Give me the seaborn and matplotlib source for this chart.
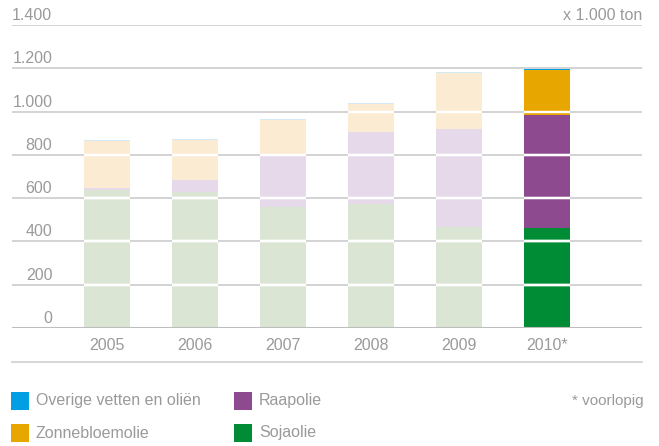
import pandas as pd
import matplotlib.pyplot as plt
import seaborn as sns
from matplotlib.patches import Rectangle

# -----------------------------
# Data (x 1.000 ton)
# -----------------------------
years = ["2005", "2006", "2007", "2008", "2009", "2010*"]
sojaolie = [638, 629, 559, 574, 466, 464]
raapolie = [11, 56, 234, 332, 454, 518]
zonnebloemolie = [214, 185, 169, 130, 259, 211]
overige = [5, 4, 4, 3, 4, 4]

y_ticks = [0, 200, 400, 600, 800, 1000, 1200, 1400]
y_labels = ["0", "200", "400", "600", "800", "1.000", "1.200", "1.400"]

legend_labels = ["Overige vetten en oliën", "Zonnebloemolie", "Raapolie", "Sojaolie"]

# full colour for the last year, faded for the earlier years
full = {"overige": "#009FE3", "zonne": "#E8A700", "raap": "#8D4A8F", "soja": "#008C34"}
pale = {"overige": "#D4EBF7", "zonne": "#FCEBD3", "raap": "#E6DAEA", "soja": "#DAE5D4"}

df = pd.DataFrame({"jaar": years, "soja": sojaolie, "raap": raapolie,
                   "zonne": zonnebloemolie, "overige": overige})
df["c_soja"] = df["soja"]
df["c_raap"] = df["c_soja"] + df["raap"]
df["c_zonne"] = df["c_raap"] + df["zonne"]
df["c_overige"] = df["c_zonne"] + df["overige"]

text_grey = "#9A9A9A"
grid_grey = "#C8C8C8"
plt.rcParams["font.family"] = ["Liberation Sans", "DejaVu Sans"]

# -----------------------------
# Figure
# -----------------------------
fig = plt.figure(figsize=(6.59, 4.46), dpi=100)
ax = fig.add_axes([12 / 659, (446 - 328) / 446, 630 / 659, 303 / 446])

# stacked bars: draw the cumulative totals from the top layer down
for key in ["overige", "zonne", "raap", "soja"]:
    cols = [pale[key]] * (len(years) - 1) + [full[key]]
    sns.barplot(data=df, x="jaar", y="c_" + key, hue="jaar", palette=cols,
                legend=False, width=0.523, saturation=1, linewidth=0,
                ax=ax, zorder=2)

ax.set_xlim(-1.08, 6.08)
ax.set_ylim(0, 1400)

# gridlines behind, white breaks across the bars (only below the bar top)
for v in y_ticks[1:]:
    ax.axhline(v, color=grid_grey, lw=1.1, zorder=1)
for p in ax.patches:
    x0 = p.get_x()
    x1 = x0 + p.get_width()
    levels = [v for v in y_ticks[1:] if v < p.get_height()]
    if levels:
        ax.hlines(levels, x0, x1, color="white", lw=1.6, zorder=3)
ax.axhline(0, color="#BDBDBD", lw=2.2, zorder=4)

# y labels sit above the gridlines
for v, lab in zip(y_ticks, y_labels):
    ax.annotate(lab, xy=(0.064, v), xycoords=("axes fraction", "data"),
                xytext=(0, 5), textcoords="offset pixels",
                ha="right", va="baseline", color=text_grey, fontsize=11.5)
ax.annotate("x 1.000 ton", xy=(1, 1400), xycoords=("axes fraction", "data"),
            xytext=(0, 5), textcoords="offset pixels",
            ha="right", va="baseline", color=text_grey, fontsize=11.5)

for s in ax.spines.values():
    s.set_visible(False)
ax.set_yticks([])
ax.set_xlabel("")
ax.set_ylabel("")
ax.tick_params(axis="x", length=0, pad=7, labelsize=11.5, labelcolor=text_grey)

# thin line under the year labels
ax.plot([0, 1], [-0.112, -0.112], transform=ax.transAxes, clip_on=False,
        color="#CFCFCF", lw=1.2)

# -----------------------------
# Legend (drawn by hand)
# -----------------------------
legend_colors = [full["overige"], full["zonne"], full["raap"], full["soja"]]
legend_pos = [(11, 392), (11, 424), (234, 392), (234, 424)]
W, H = 659, 446
for lab, col, (px, py) in zip(legend_labels, legend_colors, legend_pos):
    fig.add_artist(Rectangle((px / W, 1 - (py + 18) / H), 18 / W, 18 / H,
                             transform=fig.transFigure, color=col, lw=0))
    fig.text((px + 25) / W, 1 - (py + 9) / H, lab, ha="left", va="center",
             color=text_grey, fontsize=11.5)
fig.text(644 / W, 1 - 401 / H, "* voorlopig", ha="right", va="center",
         color=text_grey, fontsize=11)

plt.savefig("out.png", dpi=100)
